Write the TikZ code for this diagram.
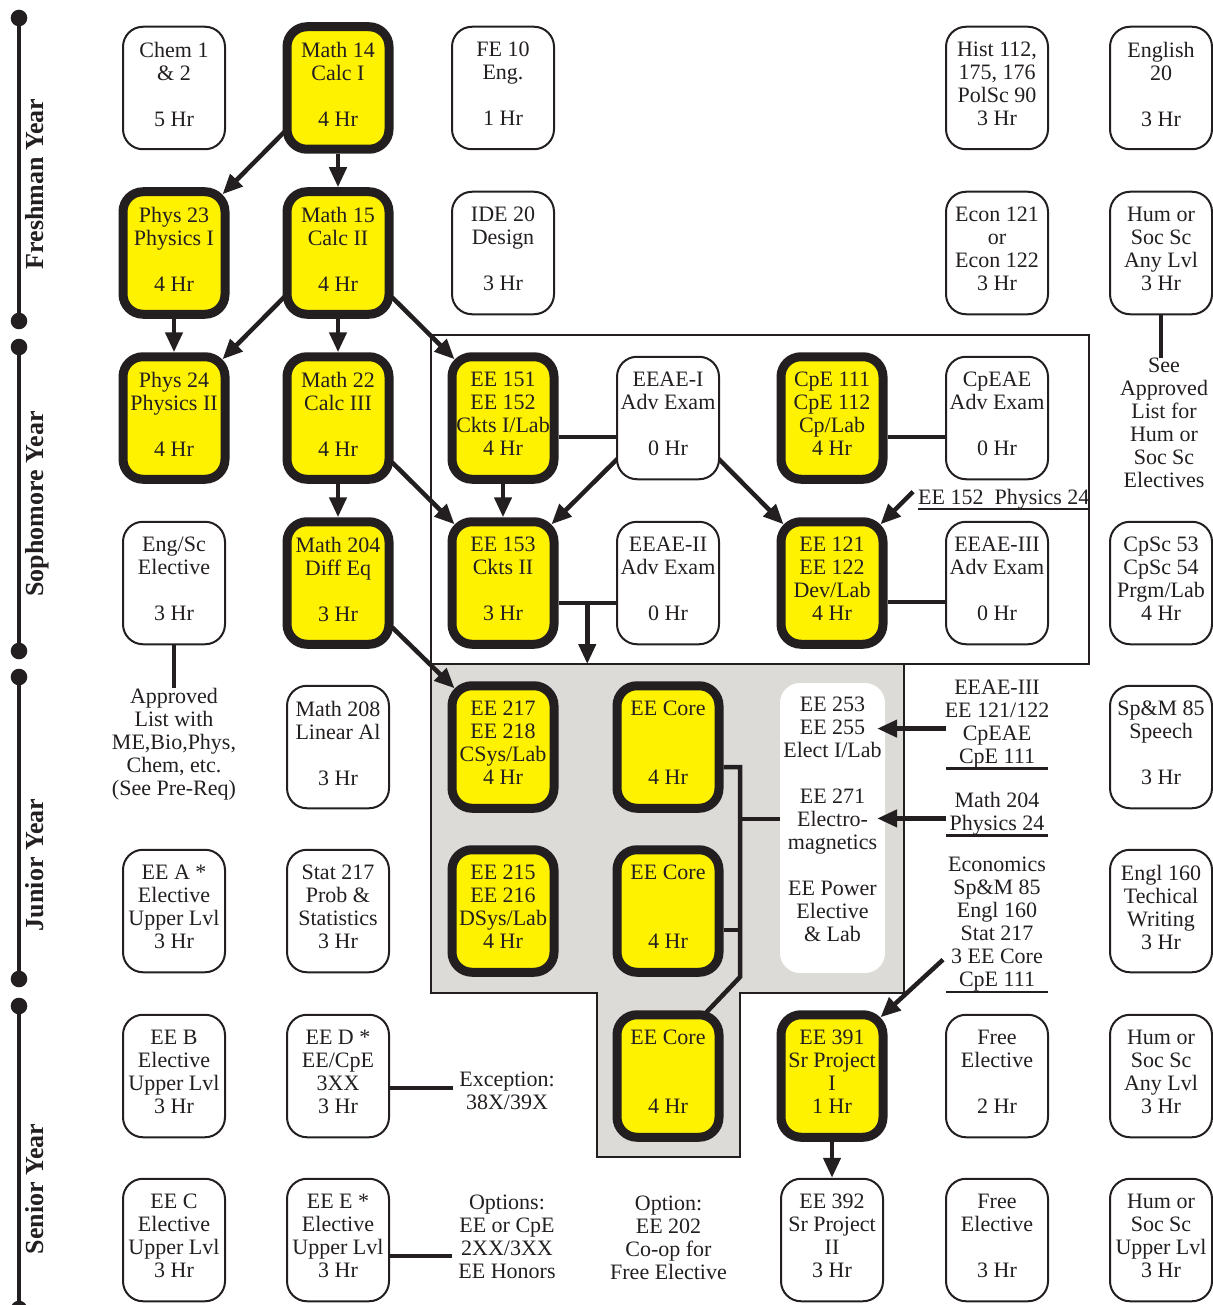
\documentclass[tikz,border=0pt]{standalone}
\usepackage{fontspec}
\setmainfont{Liberation Serif}
\usetikzlibrary{arrows.meta}
\usetikzlibrary{backgrounds}
\usetikzlibrary{calc}

\definecolor{ink}{HTML}{231F20}
\definecolor{gold}{HTML}{FFF200}
\definecolor{coregray}{HTML}{DCDBD8}

\begin{document}
\begin{tikzpicture}[
        x=1pt, y=-1pt,
        >={Triangle[length=20pt,width=17pt]},
        every node/.style={text=ink},
        course/.style={draw=ink, fill=white, line width=2pt, rounded corners=20pt,
            minimum width=102pt, minimum height=122.5pt, inner sep=0pt,
            align=center, font=\fontsize{22}{23}\selectfont,
            execute at end node={\rule[-8pt]{0pt}{8pt}}},
        core/.style={course, fill=gold, line width=9pt},
        block/.style={fill=white, rounded corners=20pt, minimum width=105pt,
            minimum height=290pt, inner sep=0pt, align=center,
            font=\fontsize{22}{23}\selectfont,
            execute at end node={\rule[-18pt]{0pt}{18pt}}},
        note/.style={align=center, inner sep=0pt, font=\fontsize{22}{23}\selectfont},
        yearlabel/.style={rotate=90, anchor=base, inner sep=0pt,
            font=\fontsize{26}{30}\selectfont\bfseries},
        conn/.style={draw=ink, line width=4.5pt},
        under/.style={draw=ink, line width=2.3pt},
        frame/.style={draw=ink, line width=2.5pt},
    ]
    \useasboundingbox (0,0) rectangle (1212,1305);

    % year bars
    \foreach \ya/\yb in {18/321, 347/651, 677/979, 1006/1309} {
        \draw[ink, line width=4pt] (19,\ya) -- (19,\yb);
        \fill[ink] (19,\ya) circle[radius=8.3pt] (19,\yb) circle[radius=8.3pt];
    }
    \foreach \yc/\yname [count=\i] in {184/Freshman Year, 504/Sophomore Year,
                                       865/Junior Year, 1189/Senior Year}
        \node[yearlabel] (year\i) at (43,\yc) {\yname};

    % EE block and core area
    \coordinate (frameNW) at (431,335);
    \coordinate (frameSE) at (1089,664);
    \begin{scope}[on background layer]
        \fill[coregray] (431,664) -- (904,664) -- (904,993) -- (740,993) -- (740,1157)
            -- (597,1157) -- (597,993) -- (431,993) -- cycle;
        \draw[frame] (431,664) -- (904,664) -- (904,993) -- (740,993) -- (740,1157)
            -- (597,1157) -- (597,993) -- (431,993) -- cycle;
        \draw[frame] (frameNW) rectangle (frameSE);
    \end{scope}
    \node[block] (ee253) at (832.5,828) {EE 253\\EE 255\\Elect I/Lab\\~\\EE 271\\Electro-\\magnetics\\~\\EE Power\\Elective\\\& Lab};

    % freshman
    \node[course] (chem)    at (174,88)   {Chem 1\\\& 2\\~\\5 Hr};
    \node[core]   (math14)  at (338,88)   {Math 14\\Calc I\\~\\4 Hr};
    \node[course] (fe10)    at (503,88)   {FE 10\\Eng.\\~\\1 Hr};
    \node[course] (hist)    at (997,88)   {Hist 112,\\175, 176\\PolSc 90\\3 Hr};
    \node[course] (engl20)  at (1161,88)  {English\\20\\~\\3 Hr};
    \node[core]   (phys23)  at (174,253)  {Phys 23\\Physics I\\~\\4 Hr};
    \node[core]   (math15)  at (338,253)  {Math 15\\Calc II\\~\\4 Hr};
    \node[course] (ide20)   at (503,253)  {IDE 20\\Design\\~\\3 Hr};
    \node[course] (econ)    at (997,253)  {Econ 121\\or\\Econ 122\\3 Hr};
    \node[course] (hum1)    at (1161,253) {Hum or\\Soc Sc\\Any Lvl\\3 Hr};

    % sophomore
    \node[core]   (phys24)  at (174,418)  {Phys 24\\Physics II\\~\\4 Hr};
    \node[core]   (math22)  at (338,418)  {Math 22\\Calc III\\~\\4 Hr};
    \node[core]   (ee151)   at (503,418)  {EE 151\\EE 152\\Ckts I/Lab\\4 Hr};
    \node[course] (eeae1)   at (668,418)  {EEAE-I\\Adv Exam\\~\\0 Hr};
    \node[core]   (cpe111)  at (832,418)  {CpE 111\\CpE 112\\Cp/Lab\\4 Hr};
    \node[course] (cpeae)   at (997,418)  {CpEAE\\Adv Exam\\~\\0 Hr};
    \node[course] (engsc)   at (174,583)  {Eng/Sc\\Elective\\~\\3 Hr};
    \node[core]   (math204) at (338,583)  {Math 204\\Diff Eq\\~\\3 Hr};
    \node[core]   (ee153)   at (503,583)  {EE 153\\Ckts II\\~\\3 Hr};
    \node[course] (eeae2)   at (668,583)  {EEAE-II\\Adv Exam\\~\\0 Hr};
    \node[core]   (ee121)   at (832,583)  {EE 121\\EE 122\\Dev/Lab\\4 Hr};
    \node[course] (eeae3)   at (997,583)  {EEAE-III\\Adv Exam\\~\\0 Hr};
    \node[course] (cpsc)    at (1161,583) {CpSc 53\\CpSc 54\\Prgm/Lab\\4 Hr};

    % junior
    \node[course] (math208) at (338,747)  {Math 208\\Linear Al\\~\\3 Hr};
    \node[core]   (ee217)   at (503,747)  {EE 217\\EE 218\\CSys/Lab\\4 Hr};
    \node[core]   (core1)   at (668,747)  {EE Core\\~\\~\\4 Hr};
    \node[course] (spm)     at (1161,747) {Sp\&M 85\\Speech\\~\\3 Hr};
    \node[course] (eea)     at (174,911)  {EE A *\\Elective\\Upper Lvl\\3 Hr};
    \node[course] (stat)    at (338,911)  {Stat 217\\Prob \&\\Statistics\\3 Hr};
    \node[core]   (ee215)   at (503,911)  {EE 215\\EE 216\\DSys/Lab\\4 Hr};
    \node[core]   (core2)   at (668,911)  {EE Core\\~\\~\\4 Hr};
    \node[course] (engl160) at (1161,911) {Engl 160\\Techical\\Writing\\3 Hr};

    % senior
    \node[course] (eeb)     at (174,1076)  {EE B\\Elective\\Upper Lvl\\3 Hr};
    \node[course] (eed)     at (338,1076)  {EE D *\\EE/CpE\\3XX\\3 Hr};
    \node[core]   (core3)   at (668,1076)  {EE Core\\~\\~\\4 Hr};
    \node[core]   (ee391)   at (832,1076)  {EE 391\\Sr Project\\I\\1 Hr};
    \node[course] (free1)   at (997,1076)  {Free\\Elective\\~\\2 Hr};
    \node[course] (hum2)    at (1161,1076) {Hum or\\Soc Sc\\Any Lvl\\3 Hr};
    \node[course] (eec)     at (174,1240)  {EE C\\Elective\\Upper Lvl\\3 Hr};
    \node[course] (eee)     at (338,1240)  {EE E *\\Elective\\Upper Lvl\\3 Hr};
    \node[course] (ee392)   at (832,1240)  {EE 392\\Sr Project\\II\\3 Hr};
    \node[course] (free2)   at (997,1240)  {Free\\Elective\\~\\3 Hr};
    \node[course] (hum3)    at (1161,1240) {Hum or\\Soc Sc\\Upper Lvl\\3 Hr};

    % notes
    \node[note, anchor=north] (approved) at (174,688) {Approved\\List with\\ME,Bio,Phys,\\Chem, etc.\\(See Pre-Req)};
    \node[note, anchor=north] (seelist) at (1164,358) {See\\Approved\\List for\\Hum or\\Soc Sc\\Electives};
    \node[note, anchor=base west] (pre0) at (918,504) {EE 152~ Physics 24};
    \node[note, anchor=north] (pre1) at (997,680) {EEAE-III\\EE 121/122\\CpEAE\\CpE 111};
    \node[note, anchor=north] (pre2) at (997,792) {Math 204\\Physics 24};
    \node[note, anchor=north] (pre3) at (997,857) {Economics\\Sp\&M 85\\Engl 160\\Stat 217\\3 EE Core\\CpE 111};
    \node[note, anchor=north, inner xsep=6pt] (exc) at (507,1072) {Exception:\\38X/39X};
    \node[note, anchor=north, inner xsep=6pt] (opts) at (507,1195) {Options:\\EE or CpE\\2XX/3XX\\EE Honors};
    \node[note, anchor=north] (coop) at (668.5,1196) {Option:\\EE 202\\Co-op for\\Free Elective};

    \draw[under] (pre0.south west) -- (pre0.south east);
    \draw[under] ([xshift=-51pt]pre1.south) coordinate (u1) -- ([xshift=51pt]pre1.south);
    \draw[under] ([xshift=-51pt]pre2.south) coordinate (u2) -- ([xshift=51pt]pre2.south);
    \draw[under] ([xshift=-51pt]pre3.south) coordinate (u3) -- ([xshift=51pt]pre3.south);

    \begin{scope}[on background layer]
        \draw[conn, ->] (math14) -- (math15);
        \draw[conn, ->] (phys23) -- (phys24);
        \draw[conn, ->] (math15) -- (math22);
        \draw[conn, ->] (math22) -- (math204);
        \draw[conn, ->] (ee151) -- (ee153);
        \draw[conn, ->] (ee391) -- (ee392);
        \draw[conn, ->] ([shift={(4,-24)}]math14.south west) -- ([shift={(-7,7)}]phys23.north east);
        \draw[conn, ->] ([shift={(4,-24)}]math15.south west) -- ([shift={(-7,7)}]phys24.north east);
        \draw[conn, ->] ([shift={(-4,-24)}]math15.south east) -- ([shift={(7,7)}]ee151.north west);
        \draw[conn, ->] ([shift={(-4,-24)}]math22.south east) -- ([shift={(7,7)}]ee153.north west);
        \draw[conn, ->] ([shift={(-4,-24)}]math204.south east) -- ([shift={(7,7)}]ee217.north west);
        \draw[conn, ->] ([shift={(4,-24)}]eeae1.south west) -- ([shift={(-7,7)}]ee153.north east);
        \draw[conn, ->] ([shift={(-4,-24)}]eeae1.south east) -- ([shift={(7,7)}]ee121.north west);

        % exam links
        \draw[conn] ([shift={(0,19)}]ee151.east) -- ([shift={(0,19)}]eeae1.west);
        \draw[conn] ([shift={(0,19)}]cpe111.east) -- ([shift={(0,19)}]cpeae.west);
        \draw[conn] ([shift={(0,20)}]ee153.east) -- ([shift={(0,20)}]eeae2.west);
        \draw[conn] ([shift={(0,19)}]ee121.east) -- ([shift={(0,19)}]eeae3.west);
        \draw[conn, ->] ($(ee153.east)!.5!(eeae2.west) + (0,20)$) coordinate (split) -- (split |- frameSE);

        % EE core bus
        \coordinate (busTop) at (740,767);
        \coordinate (busMid) at (740,819);
        \coordinate (busBot) at (740,977);
        \draw[conn] ([shift={(0,20)}]core1.east) -- (busTop) -- (busBot)
            -- ([shift={(-18,3)}]core3.north east);
        \draw[conn] ([shift={(0,19)}]core2.east) coordinate (c2e) -- (c2e -| busTop);
        \draw[conn] (busMid) -- (busMid -| ee253.west);

        % side links
        \draw[conn] (engsc.south) -- (engsc.south |- approved.north);
        \draw[conn] (hum1.south) -- (hum1.south |- seelist.north);
        \draw[conn] ([shift={(0,12)}]eed.east) coordinate (d1) -- (d1 -| exc.west);
        \draw[conn] ([shift={(0,16)}]eee.east) coordinate (e1) -- (e1 -| opts.west);
    \end{scope}

    % prerequisite arrows
    \draw[conn, ->] ([shift={(-5,-7)}]pre0.west) -- ([shift={(-7,7)}]ee121.north east);
    \draw[conn, ->, shorten >=-8pt] ([shift={(0,-40)}]u1) coordinate (a1) -- (a1 -| ee253.east);
    \draw[conn, ->, shorten >=-8pt] ([shift={(0,-17)}]u2) coordinate (a2) -- (a2 -| ee253.east);
    \draw[conn, ->] ([shift={(-3,-32)}]u3) -- ([shift={(-7,7)}]ee391.north east);

\end{tikzpicture}
\end{document}
